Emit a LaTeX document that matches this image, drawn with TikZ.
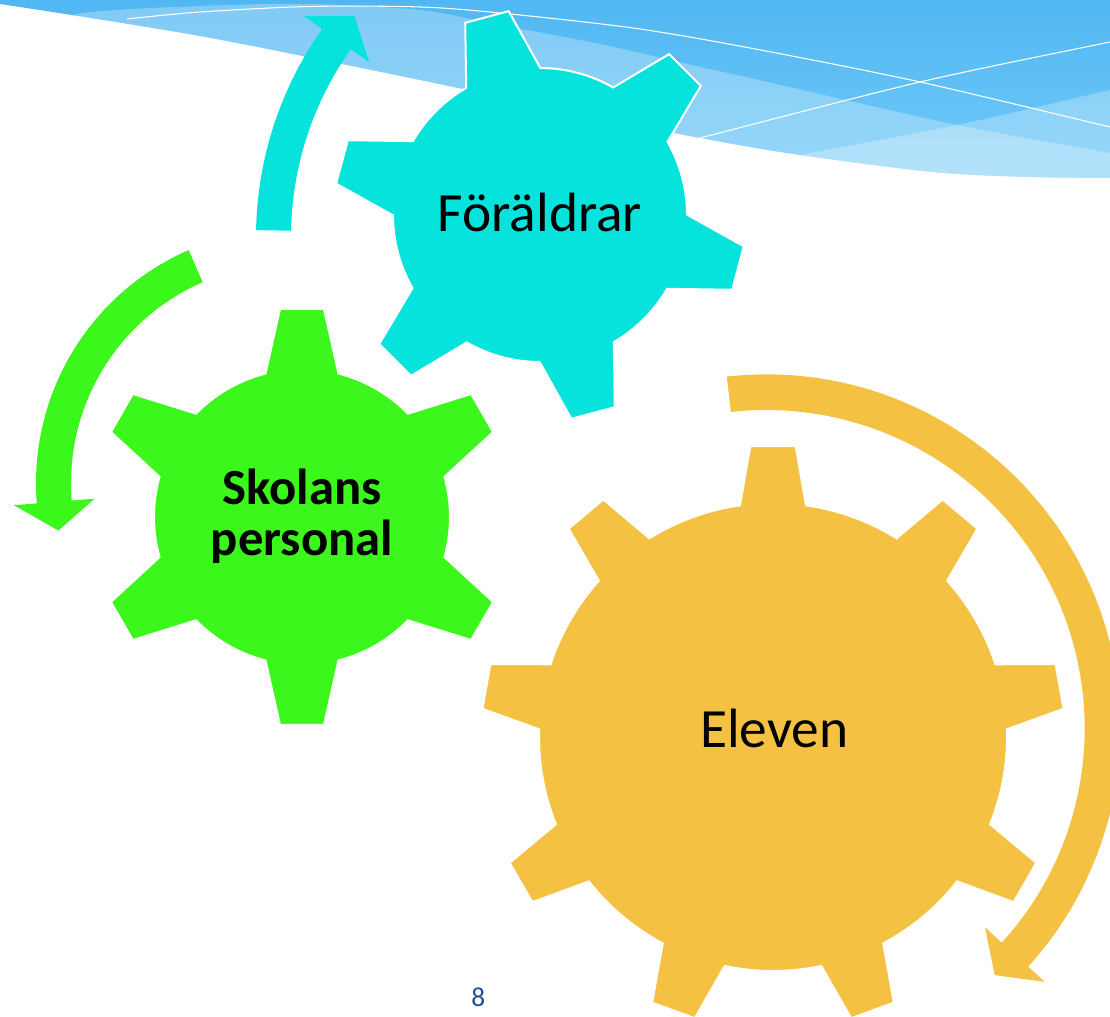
\documentclass[tikz,border=0pt]{standalone}
\usepackage{fontspec}
\setmainfont{Carlito}
\definecolor{gcyan}{HTML}{06E2DC}
\definecolor{ggreen}{HTML}{3CF71B}
\definecolor{gyellow}{HTML}{F4C142}
\definecolor{bluetop}{HTML}{51B7F2}
\definecolor{bluebot}{HTML}{72CAF8}
\definecolor{pagenum}{HTML}{1F4E9C}

% gear: #1 colour, #2 centre, #3 first tooth angle, #4 teeth, #5 body radius, #6 tip radius, #7 tip half width, #8 base half width
\newcommand{\mygear}[8]{%
\begin{scope}[shift={#2}]
  \pgfmathsetmacro\gbStep{360/#4}
  \pgfmathsetmacro\gbBeta{asin(#8/#5)}
  \pgfmathsetmacro\gbGam{atan(#7/#6)}
  \pgfmathsetmacro\gbRt{veclen(#6,#7)}
  \pgfmathtruncatemacro\gbLast{#4-1}
  \fill[#1, gearline] ({#3-\gbBeta}:#5)
    \foreach \k [evaluate=\k as \t using #3+\k*\gbStep] in {0,...,\gbLast} {
      -- ({\t-\gbBeta}:#5) -- ({\t-\gbGam}:\gbRt) -- ({\t+\gbGam}:\gbRt) -- ({\t+\gbBeta}:#5)
      arc[start angle={\t+\gbBeta}, end angle={\t+\gbStep-\gbBeta}, radius=#5]
    } -- cycle;
\end{scope}}

% curved arrow: #1 colour, #2 centre, #3 inner r, #4 outer r, #5 start angle, #6 end angle, #7 tip angle, #8 head half base
\newcommand{\myarrow}[8]{%
\begin{scope}[shift={#2}]
  \pgfmathsetmacro\arMid{(#3+#4)/2}
  \pgfmathsetmacro\arHi{\arMid+#8}
  \pgfmathsetmacro\arLo{\arMid-#8}
  \fill[#1] (#5:#4) arc[start angle=#5, end angle=#6, radius=#4]
    -- (#6:\arHi) -- (#7:\arMid) -- (#6:\arLo) -- (#6:#3)
    arc[start angle=#6, end angle=#5, radius=#3] -- cycle;
\end{scope}}

\begin{document}
\begin{tikzpicture}[x=0.75pt, y=0.75pt,
  gearline/.style={draw=white, line width=1.5pt, line join=miter},
  wline/.style={draw=white, line width=0.8pt},
  glass/.style={fill=white, fill opacity=0.27},
  gearlabel/.style={anchor=base, inner sep=0pt, text=black}]
\useasboundingbox (0,0) rectangle (1110,1017);
\fill[white] (0,0) rectangle (1110,1017);

% ---- background wave ----
\begin{scope}
  \clip (0,1017) -- plot[smooth] coordinates {(0,1013) (200,981) (420,937) (560,907) (700,879) (800,862) (933,845) (1030,840) (1110,839)} -- (1110,1017) -- cycle;
  \shade[top color=bluetop, bottom color=bluebot] (0,835) rectangle (1110,1017);
  \path[glass] plot[smooth] coordinates {(40,987) (83,1004) (200,1011) (310,1013) (420,1007) (500,992) (600,973) (700,950) (750,939) (957,892) (1110,864) (1120,861)} -- (1120,800) -- (40,800) -- cycle;
  \path[glass] plot[smooth] coordinates {(720,847) (800,862) (957,892) (1110,927) (1120,929)} -- (1120,800) -- (720,800) -- cycle;
  \draw[wline] plot[smooth] coordinates {(127,998) (200,1005) (310,1010.5) (420,1010) (500,1004) (633,989) (750,969) (920,935) (1110,890) (1120,888)};
  \draw[wline] plot[smooth] coordinates {(690,876) (700,879) (920,935) (1110,975) (1120,977)};
\end{scope}

% ---- arrows ----
\myarrow{gyellow}{(766.3,288.6)}{318.4}{354}{96.4}{-42.3}{-47.2}{40.5}
\myarrow{gcyan}{(616,780)}{325}{360}{178.9}{144.7}{139.8}{40}
\myarrow{ggreen}{(290,534)}{219}{254}{113.5}{184.6}{191.6}{40.5}

% ---- gears ----
\mygear{gcyan}{(540,802)}{105}{6}{147}{205}{22.5}{38.4}
\mygear{ggreen}{(302,500)}{90}{6}{148}{208}{22}{36.5}
\mygear{gyellow}{(773,280)}{90}{9}{234}{291}{22.7}{33}

% ---- labels ----
\node[gearlabel, font=\fontsize{41.5}{50}\selectfont] (foraldrar) at (540,785.3) {Föräldrar};
\node[gearlabel, font=\fontsize{41.5}{50}\selectfont] (eleven) at (774.3,269.5) {Eleven};
\node[gearlabel, align=center, font=\bfseries\fontsize{38}{38.25}\selectfont] (skolans) at (302,461) {Skolans\\personal};
\node[anchor=base, inner sep=0pt, text=pagenum, font=\fontsize{20.5}{24}\selectfont] (pagenr) at (478.2,10.3) {8};
\end{tikzpicture}
\end{document}
